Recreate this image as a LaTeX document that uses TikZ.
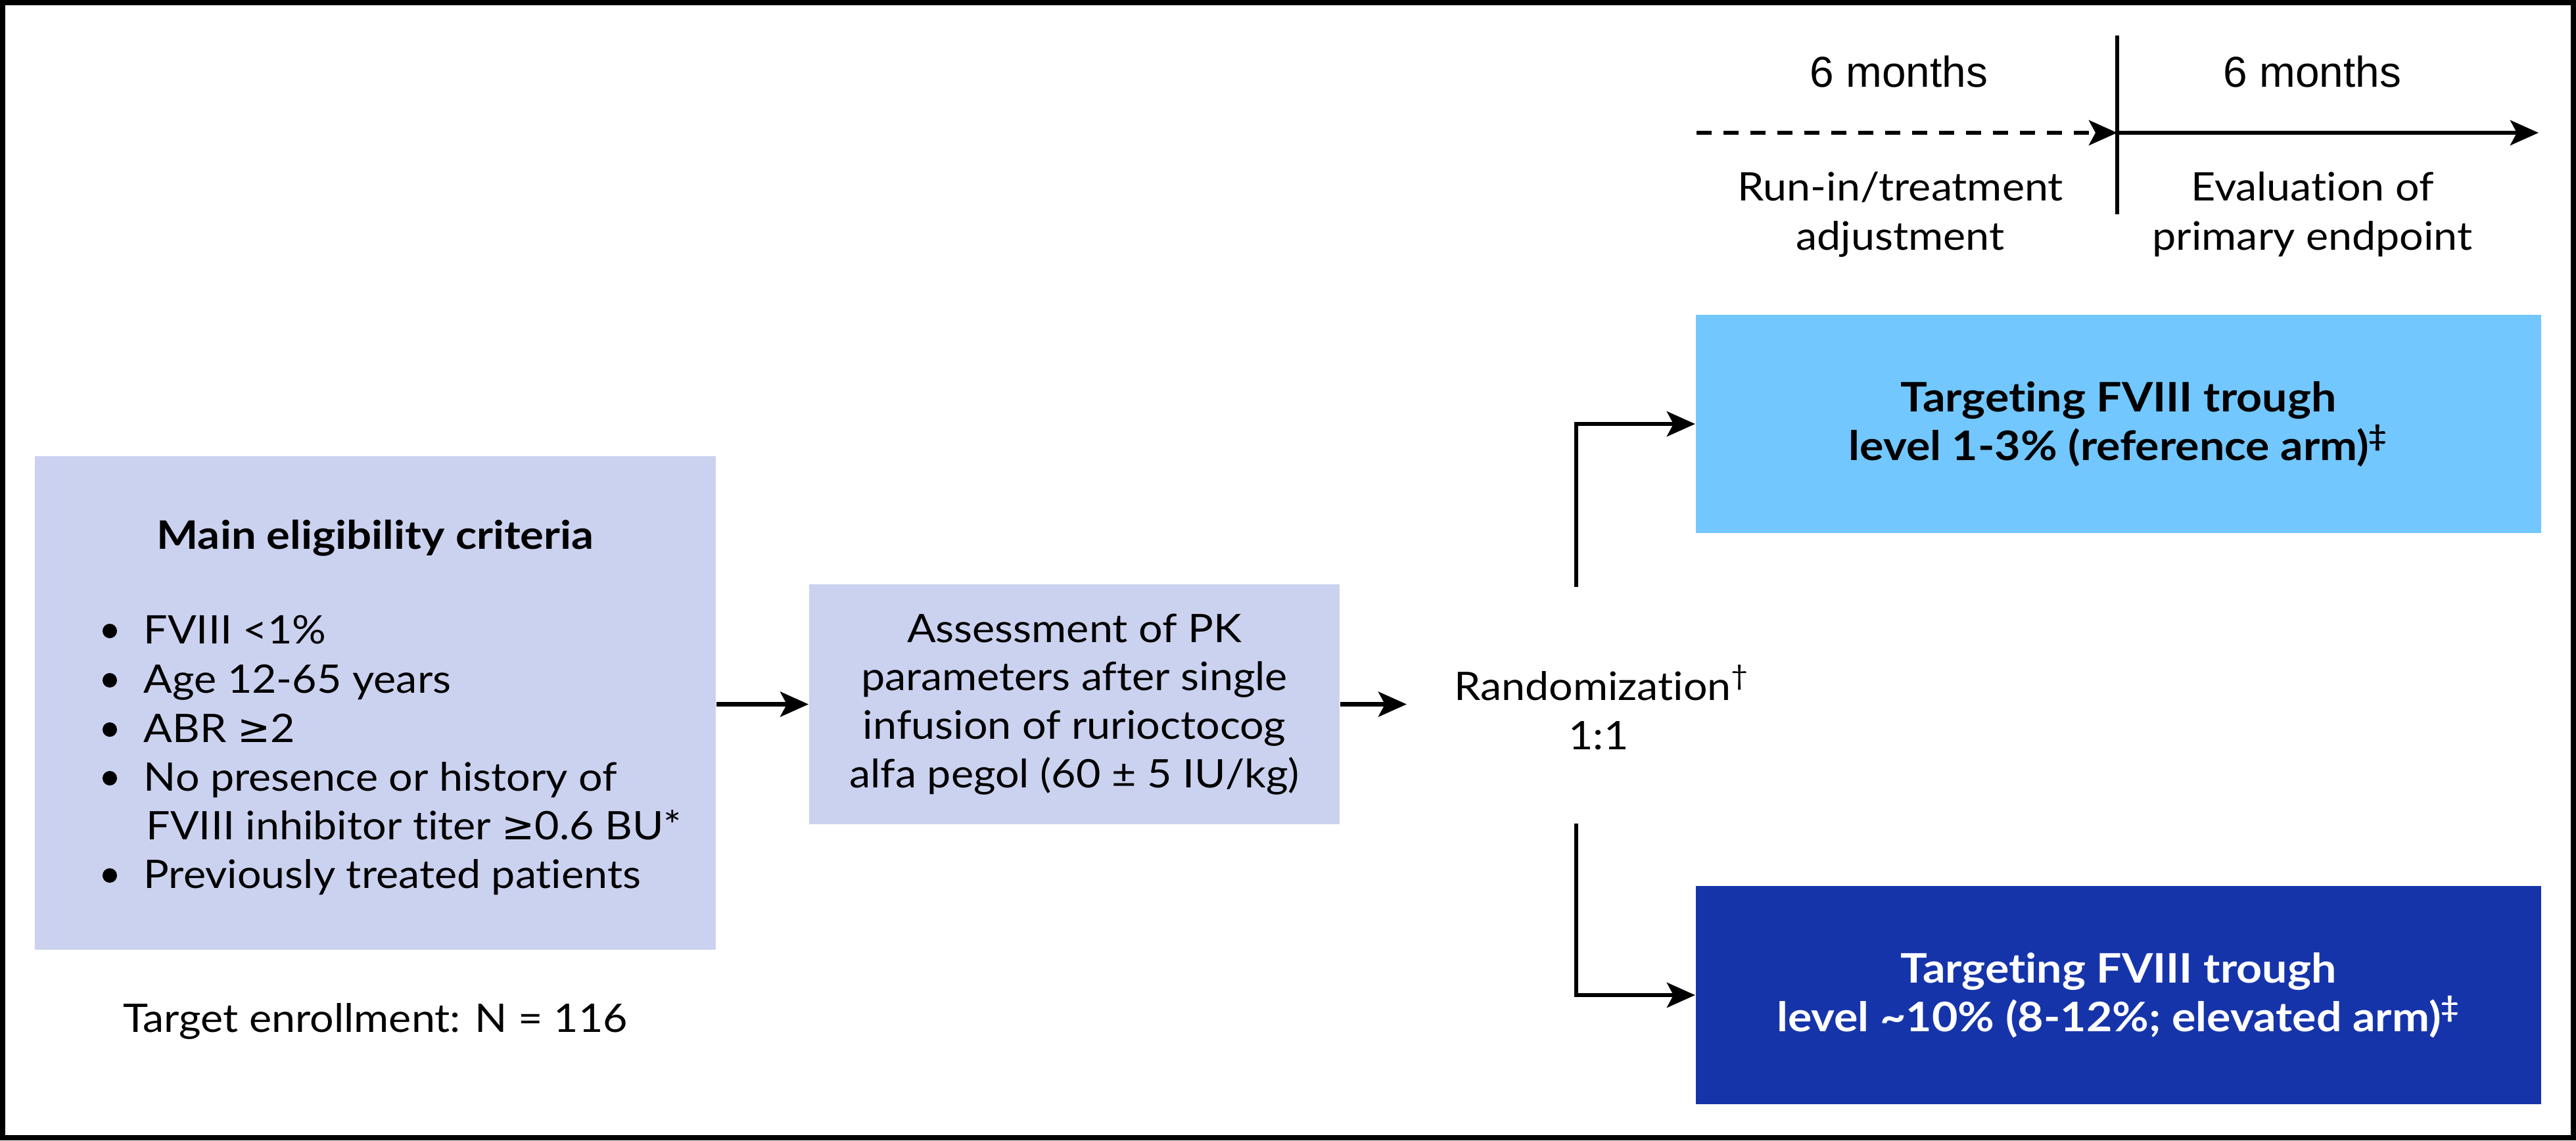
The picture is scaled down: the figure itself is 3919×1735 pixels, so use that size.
\documentclass[tikz,border=0pt]{standalone}
\usepackage{fontspec}
\setmainfont{Lato}[Ligatures=NoCommon, FakeStretch=1.08, BoldFeatures={FakeStretch=1.12}]
\newfontfamily\armfont{Lato}[Ligatures=NoCommon, FakeStretch=1.08, BoldFeatures={FakeStretch=1.10}]
\newfontfamily\arialf{Liberation Sans}
\newfontfamily\symf{DejaVu Sans}
\usetikzlibrary{arrows.meta}
\definecolor{lav}{RGB}{203,210,239}
\definecolor{lblue}{RGB}{114,199,254}
\definecolor{dblue}{RGB}{22,52,170}
\newcommand{\gesym}{{\symf ≥}}
\begin{document}
\begin{tikzpicture}[x=0.01cm,y=-0.01cm,
  txt/.style={font=\fontsize{17pt}{21pt}\selectfont, inner sep=0pt},
  btxt/.style={font=\fontsize{17pt}{21pt}\selectfont\bfseries, inner sep=0pt},
  armtxt/.style={font=\armfont\fontsize{17.6pt}{21pt}\selectfont\bfseries, inner sep=0pt},
  tl/.style={font=\arialf\fontsize{18.7pt}{22pt}\selectfont, inner sep=0pt},
  conn/.style={line width=0.065cm, -{Stealth[length=0.43cm,width=0.38cm,inset=0.1cm]}},
  plainline/.style={line width=0.065cm},
  box/.style={inner sep=0pt, draw=none}]

\useasboundingbox (0,0) rectangle (3919,1735);
\fill[white] (0,0) rectangle (3919,1735);
\draw[line width=0.08cm] (4,4) rectangle (3915,1731);

% boxes
\node[box, fill=lav, minimum width=10.36cm, minimum height=7.51cm] (elig) at (571,1069.5) {};
\node[box, fill=lav, minimum width=8.07cm, minimum height=3.65cm, align=center, txt] (pk) at (1634.5,1071.5)
  {Assessment of PK\\parameters after single\\infusion of rurioctocog\\alfa pegol (60 ± 5 IU/kg)};
\node[box, fill=lblue, minimum width=12.86cm, minimum height=3.32cm, align=center, armtxt] (arm1) at (3223,645)
  {Targeting FVIII trough\\level 1-3\% (reference arm)\textsuperscript{‡}};
\node[box, fill=dblue, text=white, minimum width=12.86cm, minimum height=3.32cm, align=center, armtxt] (arm2) at (3223,1514)
  {Targeting FVIII trough\\level \textasciitilde10\% (8-12\%; elevated arm)\textsuperscript{‡}};

% eligibility text
\node[btxt, anchor=base] (title) at (571,835) {Main eligibility criteria};
\node[txt, anchor=base west] (c1) at (218,979) {FVIII <1\%};
\node[txt, anchor=base west] (c2) at (218,1054) {Age 12-65 years};
\node[txt, anchor=base west] (c3) at (218,1129) {ABR \gesym2};
\node[txt, anchor=base west] (c4) at (218,1203) {No presence or history of};
\node[txt, anchor=base west] (c4b) at (222,1277) {FVIII inhibitor titer \gesym0.6 BU*};
\node[txt, anchor=base west] (c5) at (218,1351) {Previously treated patients};
\foreach \yy in {979,1054,1129,1203,1351} \fill (167,\yy-19) circle (11);
\node[txt, anchor=base] (enroll) at (571,1570) {Target enrollment: N = 116};

% randomization
\node[txt, anchor=base] (rand) at (2423,1065) {Randomization\rlap{\textsuperscript{†}}};
\node[txt, anchor=base] (ratio) at (2432,1140) {1:1};

% connectors
\coordinate (rin) at (2140,1071.5);
\coordinate (rtop) at (2398,893);
\coordinate (rbot) at (2398,1253);
\draw[conn] (elig.east |- pk.west) -- (pk.west);
\draw[conn] (pk.east) -- (rin);
\draw[conn] (rtop) |- (arm1.west);
\draw[conn] (rbot) |- (arm2.west);

% timeline
\coordinate (ts) at (2581,202);
\coordinate (tm) at (3221,202);
\coordinate (te) at (3862,202);
\coordinate (vt) at (3221,54);
\coordinate (vb) at (3221,326);
\draw[plainline] (vt) -- (vb);
\draw[conn, dash pattern=on 0.23cm off 0.18cm] (ts) -- (tm);
\draw[conn] (tm) -- (te);
\node[tl, anchor=base] (m1) at (2889,132) {6 months};
\node[tl, anchor=base] (m2) at (3518,132) {6 months};
\node[txt, anchor=base] (p1a) at (2891,305) {Run-in/treatment};
\node[txt, anchor=base] (p1b) at (2891,380) {adjustment};
\node[txt, anchor=base] (p2a) at (3518,305) {Evaluation of};
\node[txt, anchor=base] (p2b) at (3518,380) {primary endpoint};
\end{tikzpicture}
\end{document}
